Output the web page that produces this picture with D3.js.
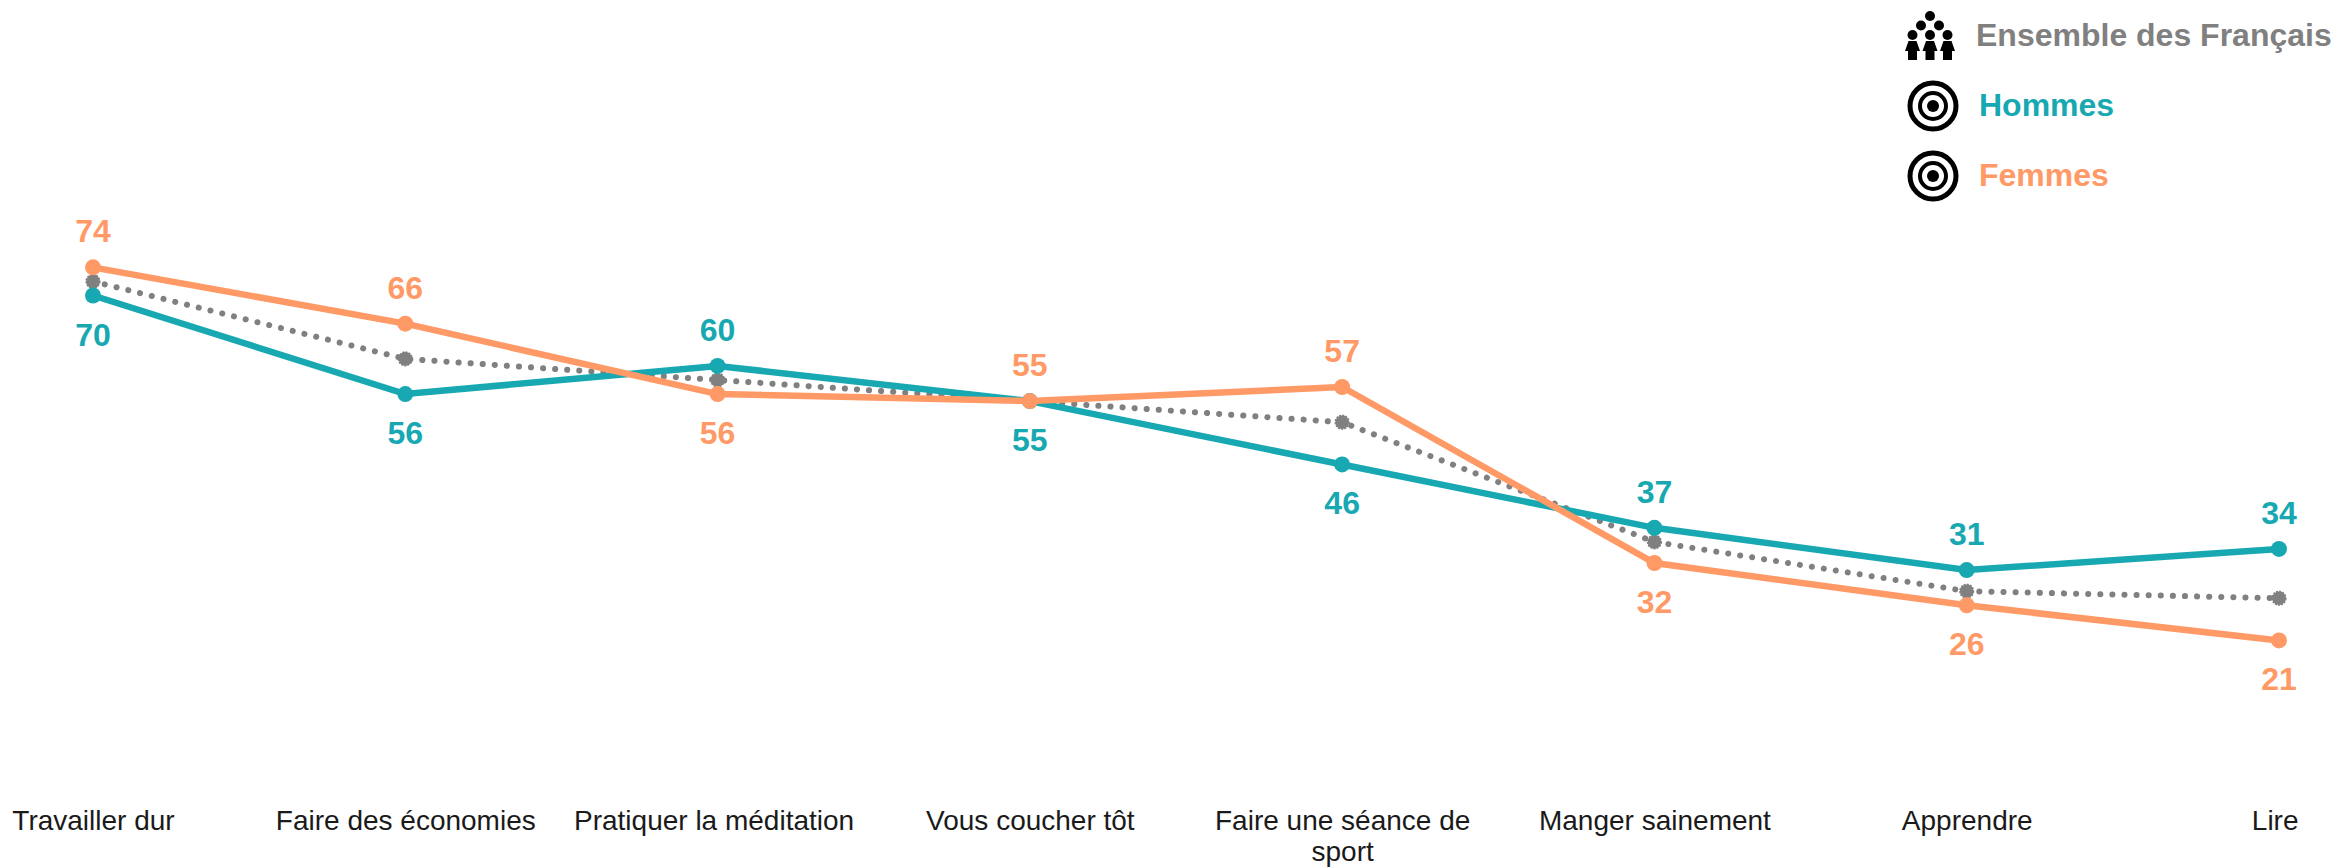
<!DOCTYPE html>
<html>
<head>
<meta charset="utf-8">
<script src="https://cdn.jsdelivr.net/npm/d3@7"></script>
<style>
  html, body { margin: 0; padding: 0; background: #fff; }
  svg { display: block; font-family: "Liberation Sans", Arial, sans-serif; }
</style>
</head>
<body>
<div id="drawing"></div>
<script>
const categories = [
  "Travailler dur",
  "Faire des économies",
  "Pratiquer la méditation",
  "Vous coucher tôt",
  "Faire une séance de sport",
  "Manger sainement",
  "Apprendre",
  "Lire",
];
const ensemble = [72, 61, 58, 55, 52, 35, 28, 27];
const hommes = [70, 56, 60, 55, 46, 37, 31, 34];
const femmes = [74, 66, 56, 55, 57, 32, 26, 21];

const grey = "#808080";
const teal = "#17a8b2";
const orange = "#ff9966";

const svg = d3
  .select("#drawing")
  .append("svg")
  .attr("width", 2335)
  .attr("height", 867);

const xScale = d3.scalePoint().domain(categories).range([93, 2279]);
const yScale = d3.scaleLinear().domain([0, 100]).range([788.3, 84.3]);

const line = (values) =>
  d3
    .line()
    .x((d, i) => xScale(categories[i]))
    .y((d) => yScale(d))(values);

// x axis, no line and no ticks, only the labels
const xAxis = svg
  .append("g")
  .attr("transform", "translate(0, 810)")
  .call(d3.axisBottom(xScale).tickSize(0).tickPadding(0));
xAxis.select(".domain").remove();
xAxis
  .selectAll("text")
  .attr("font-size", 28)
  .attr("font-family", "'Liberation Sans', Arial, sans-serif")
  .attr("fill", "#1a1a1a")
  .each(function (d) {
    // the long label goes on two lines
    const el = d3.select(this);
    const parts = d === "Faire une séance de sport" ? ["Faire une séance de", "sport"] : [d];
    el.text(null);
    parts.forEach((p, i) => {
      el.append("tspan")
        .attr("x", 0)
        .attr("y", 31 * i)
        .attr("dy", "0.71em")
        .text(p);
    });
    // keep the last label inside the page margin
    const box = this.getBBox();
    const tickX = xScale(d);
    const over = tickX + box.x + box.width - 2298;
    if (over > 0) el.attr("transform", `translate(${-over}, 0)`);
    // this one sits a little left of its point in the original
    if (d === "Pratiquer la méditation") el.attr("transform", "translate(-4, 0)");
  });

function drawSeries(values, color, width, dash) {
  const g = svg.append("g");
  const path = g
    .append("path")
    .attr("d", line(values))
    .attr("fill", "none")
    .attr("stroke", color)
    .attr("stroke-width", width);
  if (dash) path.attr("stroke-dasharray", dash).attr("stroke-linecap", "round");
  const dots = g
    .selectAll("circle")
    .data(values)
    .enter()
    .append("circle")
    .attr("cx", (d, i) => xScale(categories[i]))
    .attr("cy", (d) => yScale(d))
    .attr("r", dash ? 6.8 : 8)
    .attr("fill", color);
  // the grey markers have a toothed edge from the dotted stroke
  if (dash) dots.attr("stroke", color).attr("stroke-width", 1.6).attr("stroke-dasharray", "2 1.2");
}

drawSeries(ensemble, grey, 6, "0.1 12");
drawSeries(hommes, teal, 6.5);
drawSeries(femmes, orange, 6.5);

// value labels: the larger of the two series sits above its point
function drawLabels(values, others, color) {
  svg
    .append("g")
    .selectAll("text")
    .data(values)
    .enter()
    .append("text")
    .attr("x", (d, i) => xScale(categories[i]))
    .attr("y", (d, i) => yScale(d) + (d >= others[i] ? -25 : 50))
    .attr("text-anchor", "middle")
    .attr("font-size", 32)
    .attr("font-weight", "bold")
    .attr("fill", color)
    .text((d) => d);
}
drawLabels(femmes, hommes, orange);
// at the tie on "Vous coucher tôt" the men's label goes below
drawLabels(hommes, femmes.map((d, i) => (hommes[i] === d ? d + 1 : d)), teal);

// legend
const legend = svg.append("g");

function target(cx, cy) {
  const g = legend.append("g").attr("transform", `translate(${cx}, ${cy})`);
  g.append("circle").attr("r", 23).attr("fill", "none").attr("stroke", "#000").attr("stroke-width", 5);
  g.append("circle").attr("r", 13).attr("fill", "none").attr("stroke", "#000").attr("stroke-width", 4);
  g.append("circle").attr("r", 6).attr("fill", "#000");
}
target(1933, 106);
target(1933, 176);

// small crowd icon
const crowd = legend.append("g").attr("transform", "translate(1930, 0)");
const heads = [[0, 16], [-9, 25.5], [9, 25.5], [-17.5, 35], [0, 35], [17.5, 35]];
crowd
  .selectAll("circle")
  .data(heads)
  .enter()
  .append("circle")
  .attr("cx", (d) => d[0])
  .attr("cy", (d) => d[1])
  .attr("r", 5)
  .attr("fill", "#000");
crowd
  .selectAll("path")
  .data([-17.5, 0, 17.5])
  .enter()
  .append("path")
  .attr("transform", (d) => `translate(${d}, 0)`)
  .attr("d", "M-4,41 L4,41 L7.5,51 L4.5,51 L4.5,60 L-4.5,60 L-4.5,51 L-7.5,51 Z")
  .attr("fill", "#000");

const legendLabels = ["Ensemble des Français", "Hommes", "Femmes"];
const legendColors = [grey, teal, orange];
const legendX = [1976, 1979, 1979];
const legendY = [46, 116, 186];
legend
  .selectAll("text")
  .data(legendLabels)
  .enter()
  .append("text")
  .attr("x", (d, i) => legendX[i])
  .attr("y", (d, i) => legendY[i])
  .attr("font-size", 32)
  .attr("font-weight", "bold")
  .attr("fill", (d, i) => legendColors[i])
  .text((d) => d);
</script>
</body>
</html>
